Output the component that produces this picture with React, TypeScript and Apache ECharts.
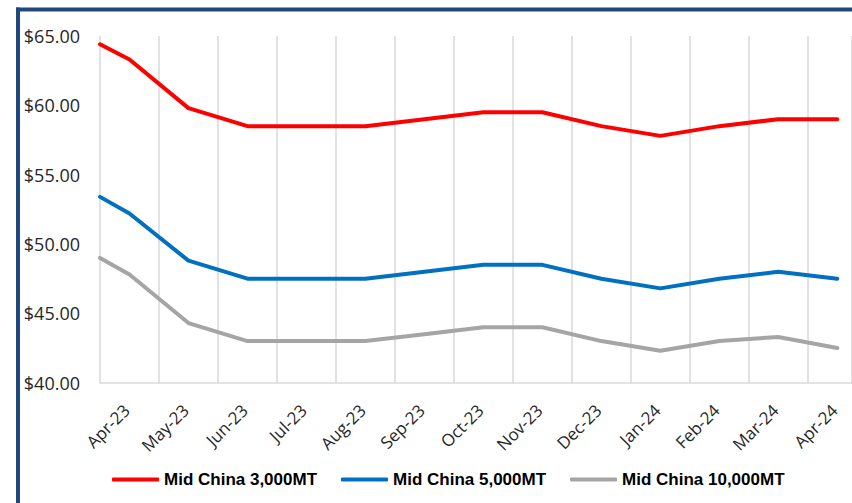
import React, { useEffect, useRef } from 'react';
import * as echarts from 'echarts';

const monthLabels = ['Apr-23', 'May-23', 'Jun-23', 'Jul-23', 'Aug-23', 'Sep-23', 'Oct-23', 'Nov-23', 'Dec-23', 'Jan-24', 'Feb-24', 'Mar-24', 'Apr-24'];
// point positions in months since Apr-23 (first point at start of Apr-23, then mid-month)
const pointMonths = [0, 0.5, 1.5, 2.5, 3.5, 4.5, 5.5, 6.5, 7.5, 8.5, 9.5, 10.5, 11.5, 12.5];
const seriesNames = ['Mid China 3,000MT', 'Mid China 5,000MT', 'Mid China 10,000MT'];
const china3000 = [64.4, 63.3, 59.8, 58.5, 58.5, 58.5, 59.0, 59.5, 59.5, 58.5, 57.8, 58.5, 59.0, 59.0];
const china5000 = [53.4, 52.2, 48.8, 47.5, 47.5, 47.5, 48.0, 48.5, 48.5, 47.5, 46.8, 47.5, 48.0, 47.5];
const china10000 = [49.0, 47.8, 44.3, 43.0, 43.0, 43.0, 43.5, 44.0, 44.0, 43.0, 42.3, 43.0, 43.3, 42.5];
const seriesColors = ['#FF0000', '#0070C0', '#A5A5A5'];

export default function App() {
  const ref = useRef<HTMLDivElement>(null);
  useEffect(() => {
    if (!ref.current) return;
    const chart = echarts.init(ref.current, undefined, { renderer: 'svg' });
    const values = [china3000, china5000, china10000];
    chart.setOption({
      animation: false,
      backgroundColor: '#FFFFFF',
      grid: { left: 100, top: 36, width: 753.3, height: 346.7 },
      xAxis: {
        type: 'value',
        min: 0,
        max: 12.75,
        interval: 1,
        axisLine: { show: true, lineStyle: { color: '#D9D9D9', width: 1.5 } },
        axisTick: { show: false },
        splitLine: { show: true, lineStyle: { color: '#D9D9D9', width: 1.5 } },
        axisLabel: {
          rotate: 45,
          margin: -2,
          verticalAlign: 'top',
          padding: [29, 0, 0, 0],
          fontFamily: 'Open Sans',
          fontSize: 17,
          color: '#262626',
          showMaxLabel: false,
          formatter: (v: number) => (Number.isInteger(v) && monthLabels[v] ? monthLabels[v] : ''),
        },
      },
      yAxis: {
        type: 'value',
        min: 40,
        max: 65,
        interval: 5,
        axisLine: { show: false },
        axisTick: { show: false },
        splitLine: { show: false },
        axisLabel: {
          margin: 20,
          fontFamily: 'Open Sans',
          fontSize: 18,
          color: '#262626',
          formatter: (v: number) => '$' + v.toFixed(2),
        },
      },
      legend: {
        left: 107,
        top: 466,
        itemWidth: 47,
        itemHeight: 4,
        itemGap: 24,
        icon: 'roundRect',
        textStyle: { fontFamily: 'Liberation Sans', fontWeight: 'bold', fontSize: 17, color: '#000000' },
        data: seriesNames,
      },
      graphic: [
        { type: 'rect', left: 16, top: 7.5, shape: { width: 836, height: 4 }, style: { fill: '#1F497D' } },
        { type: 'rect', left: 16, top: 7.5, shape: { width: 4, height: 496 }, style: { fill: '#1F497D' } },
      ],
      series: seriesNames.map((name, i) => ({
        name,
        type: 'line',
        data: pointMonths.map((m, j) => [m, values[i][j]]),
        showSymbol: false,
        symbol: 'none',
        color: seriesColors[i],
        lineStyle: { width: 4, color: seriesColors[i], cap: 'round', join: 'round' },
      })),
    });
    return () => chart.dispose();
  }, []);
  return <div ref={ref} style={{ position: 'fixed', left: 0, top: 0, width: 852, height: 503 }} />;
}
